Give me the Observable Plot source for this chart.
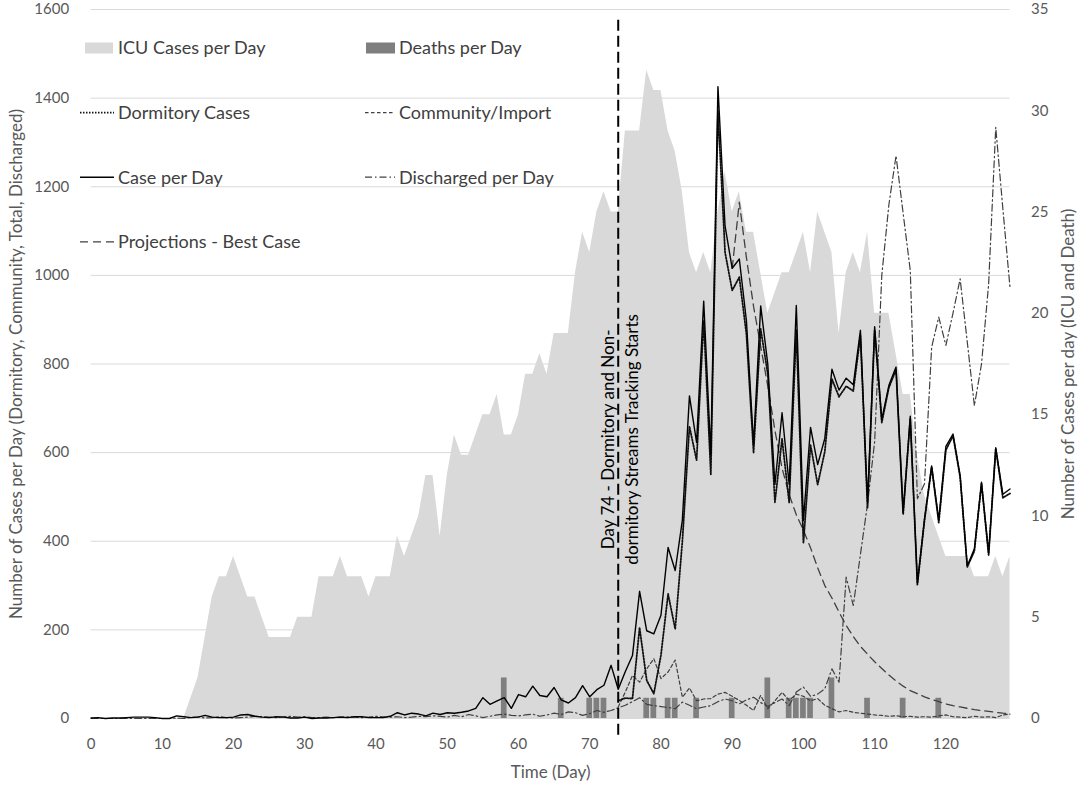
<!DOCTYPE html>
<html><head><meta charset="utf-8">
<script src="https://cdn.jsdelivr.net/npm/d3@7"></script>
<script src="https://cdn.jsdelivr.net/npm/@observablehq/plot@0.6"></script>
<style>
body{margin:0;background:#fff;}
#chart{width:1084px;height:787px;}
</style></head><body><div id="chart"></div>
<script>
// ---- Data (day index t = 0..129) ----
const icuPerDay = [0,0,0,0,0,0,0,0,0,0, 0,0,0,0,1,2,4,6,7,7, 8,7,6,6,5,4,4,4,4,5, 5,5,7,7,7,8,7,7,7,6,
  7,7,7,9,8,9,10,12,12,9, 12,14,13,13,14,15,15,16,14,14, 15,17,17,18,17,19,19,19,22,24,
  23,25,26,25,25,29,29,29,32,31, 31,29,28,26,23,22,23,22,25,27, 25,26,24,24,22,20,21,22,22,23,
  24,22,25,24,23,19,22,23,22,24, 20,20,20,18,16,16,13,11,10,9, 8,8,8,8,7,7,7,8,7,8];
const casesPerDay = [1,2,0,1,1,2,3,3,3,2, 0,0,6,4,2,3,7,3,2,2, 3,8,9,5,3,2,4,3,1,1, 3,0,1,1,2,3,2,4,4,2,
  2,2,5,13,8,12,10,6,12,9, 13,12,14,17,23,47,32,40,47,23, 54,49,73,52,49,70,42,35,47,74,
  49,65,75,120,66,106,142,287,198,191, 233,386,334,447,728,623,942,596,1426,1111,
  1016,1037,897,618,931,799,528,690,528,932, 447,657,573,632,788,741,768,753,876,486,
  884,675,752,793,465,682,305,451,570,448, 614,642,548,344,383,533,373,611,506,518];
const dischargedPerDay = [0,0,0,0,0,0,0,0,0,0,0,0,
  1,0,2,4,1,2,4,2,1,2, 3,5,4,3,2,4,5,3,4,2, 2,3,2,3,4,3,2,3,5,4, 3,4,2,3,5,4,6,5,3,7,
  4,9,6,2,5,8,10,7,6,8, 10,5,8,12,9,15,13,7,11,18, 14,18,24,30,38,47,32,29,27,25,
  22,37,30,22,26,29,38,44,40,33, 42,48,36,27,36,44,29,60,71,50,
  55,67,112,82,319,255,370,484,625,1000, 1160,1270,1140,1011,496,530,838,906,842,915,
  992,850,706,800,980,1334,1150,973];
const streamsStartDay = 74;
const dormitoryCases = [40,46,45,205,86,56,143,281,202,399, 659,583,898,551,1371,1052,966,996,867,600,
  879,777,488,631,487,877,397,617,528,602, 766,726,750,739,864,476,876,668,747,787,
  461,677,302,447,567,442,606,638,545,342, 378,530,369,609,498,508];
const communityImport = [26,60,97,82,112,135,90,105,132,48, 69,40,44,45,55,59,50,41,30,18,
  52,22,40,59,41,55,50,40,45,30, 22,15,18,14,12,10,8,7,5,6,
  4,5,3,4,3,6,8,4,3,2, 5,3,4,2,8,10];
const projectionStartDay = 90;
const projectionBestCase = [1016,1165,1040,930,840,750,650,565,505,460, 425,385,340,300,272,240,210,185,163,145,
  128,113,98,85,73,63,56,49,43,38, 33,29,26,23,20,18,16,14,12,11];
const deathDays   = [58,66,70,71,72,78,79,81,82,85,90,95,98,99,100,101,104,109,114,119];
const deathCounts = [2,1,1,1,1,1,1,1,1,1,1,2,1,1,1,1,2,1,1,1];
const xTickValues = [0,10,20,30,40,50,60,70,80,90,100,110,120];
const leftTickValues = [0,200,400,600,800,1000,1200,1400,1600];
const rightTickValues = [0,5,10,15,20,25,30,35];
const annotation = {t: 74, v: 630, label: "Day 74 - Dormitory and Non-\ndormitory Streams Tracking Starts"};

// ---- Derived tables ----
const K = 1600 / 35; // right axis (0..35) onto left axis (0..1600)
const rows = casesPerDay.map((c, t) => ({t, cases: c, icu: icuPerDay[t], discharged: dischargedPerDay[t]}));
const dormRows = dormitoryCases.map((v, i) => ({t: streamsStartDay + i, v}));
const commRows = communityImport.map((v, i) => ({t: streamsStartDay + i, v}));
const projRows = projectionBestCase.map((v, i) => ({t: projectionStartDay + i, v}));
const deathRows = deathDays.map((t, i) => ({t, n: deathCounts[i]}));

const legendItems = [
  {label: "ICU Cases per Day", kind: "rect", fill: "#d9d9d9", col: 0, row: 0},
  {label: "Deaths per Day", kind: "rect", fill: "#7f7f7f", col: 1, row: 0},
  {label: "Dormitory Cases", kind: "line", stroke: "#111", dash: "1.5,1.5", w: 1.8, col: 0, row: 1},
  {label: "Community/Import", kind: "line", stroke: "#404040", dash: "3.5,2.5", w: 1.2, col: 1, row: 1},
  {label: "Case per Day", kind: "line", stroke: "#000", dash: null, w: 1.4, col: 0, row: 2},
  {label: "Discharged per Day", kind: "line", stroke: "#404040", dash: "7,3,1.5,3", w: 1.2, col: 1, row: 2},
  {label: "Projections - Best Case", kind: "line", stroke: "#404040", dash: "8,5", w: 1.3, col: 0, row: 3}
];

function legendMark() {
  const g = d3.create("svg:g").attr("font-family", "Lato, sans-serif").attr("font-size", 18)
    .attr("text-anchor", "start");
  const colSwatch = [[80, 114], [365, 395]];
  const colRect = [[85, 113], [366, 395]];
  const colText = [118, 399];
  const rowY = r => 48 + r * 64.6;
  for (const it of legendItems) {
    const y = rowY(it.row);
    if (it.kind === "rect") {
      const [a, b] = colRect[it.col];
      g.append("rect").attr("x", a).attr("y", y - 5.5).attr("width", b - a).attr("height", 11).attr("fill", it.fill);
    } else {
      const [a, b] = colSwatch[it.col];
      const l = g.append("line").attr("x1", a).attr("x2", b).attr("y1", y).attr("y2", y)
        .attr("stroke", it.stroke).attr("stroke-width", it.w);
      if (it.dash) l.attr("stroke-dasharray", it.dash);
    }
    g.append("text").attr("x", colText[it.col]).attr("y", y).attr("dy", "0.36em")
      .attr("text-anchor", "start").attr("fill", "#404040").text(it.label);
  }
  return g.node();
}

const chart = Plot.plot({
  width: 1084, height: 787,
  marginLeft: 90.6, marginRight: 74.5, marginTop: 9, marginBottom: 69,
  style: {fontFamily: "Lato, sans-serif", fontSize: "15px", color: "#595959", background: "#fff", overflow: "visible"},
  x: {domain: [0, 129]},
  y: {domain: [0, 1600]},
  marks: [
    Plot.ruleY(leftTickValues, {stroke: "#d9d9d9", strokeWidth: 1}),
    Plot.areaY(rows, {x: "t", y: d => d.icu * K, fill: "#d9d9d9"}),
    Plot.rectY(deathRows, {x1: d => d.t - 0.4, x2: d => d.t + 0.4, y: d => d.n * K, fill: "#7f7f7f"}),
    Plot.line(rows, {x: "t", y: "discharged", stroke: "#404040", strokeWidth: 1.2, strokeDasharray: "7,3,1.5,3"}),
    Plot.line(projRows, {x: "t", y: "v", stroke: "#404040", strokeWidth: 1.3, strokeDasharray: "8,5"}),
    Plot.line(commRows, {x: "t", y: "v", stroke: "#404040", strokeWidth: 1.2, strokeDasharray: "3.5,2.5"}),
    Plot.line(dormRows, {x: "t", y: "v", stroke: "#111", strokeWidth: 1.8, strokeDasharray: "1.5,1.5"}),
    Plot.line(rows, {x: "t", y: "cases", stroke: "#000", strokeWidth: 1.4}),
    Plot.ruleX([streamsStartDay], {y1: -38, y2: 1585, stroke: "#000", strokeWidth: 2, strokeDasharray: "11,5"}),
    Plot.text([annotation], {x: "t", y: "v", text: "label", rotate: -90, textAnchor: "middle", lineAnchor: "middle",
      lineHeight: 1.4, fontSize: 17, fill: "#000"}),
    Plot.axisX(xTickValues, {tickSize: 0, tickPadding: 20, label: null, fontSize: 15, tickFormat: d => String(d)}),
    Plot.axisY(leftTickValues, {tickSize: 0, tickPadding: 22, label: null, fontSize: 15, tickFormat: d => String(d)}),
    Plot.axisY(rightTickValues.map(v => v * K), {anchor: "right", tickSize: 0, tickPadding: 21, label: null,
      fontSize: 15, tickFormat: v => String(Math.round(v / K))}),
    Plot.text(["Time (Day)"], {frameAnchor: "bottom", dy: 54, textAnchor: "middle", lineAnchor: "middle", fontSize: 17, fill: "#595959"}),
    Plot.text(["Number of Cases per Day (Dormitory, Community, Total, Discharged)"], {frameAnchor: "left", dx: -75,
      rotate: -90, textAnchor: "middle", lineAnchor: "middle", fontSize: 17, fill: "#595959"}),
    Plot.text(["Number of Cases per day (ICU and Death)"], {frameAnchor: "right", dx: 58.5,
      rotate: -90, textAnchor: "middle", lineAnchor: "middle", fontSize: 17, fill: "#595959"}),
    legendMark
  ]
});
document.getElementById("chart").appendChild(chart);
</script></body></html>
